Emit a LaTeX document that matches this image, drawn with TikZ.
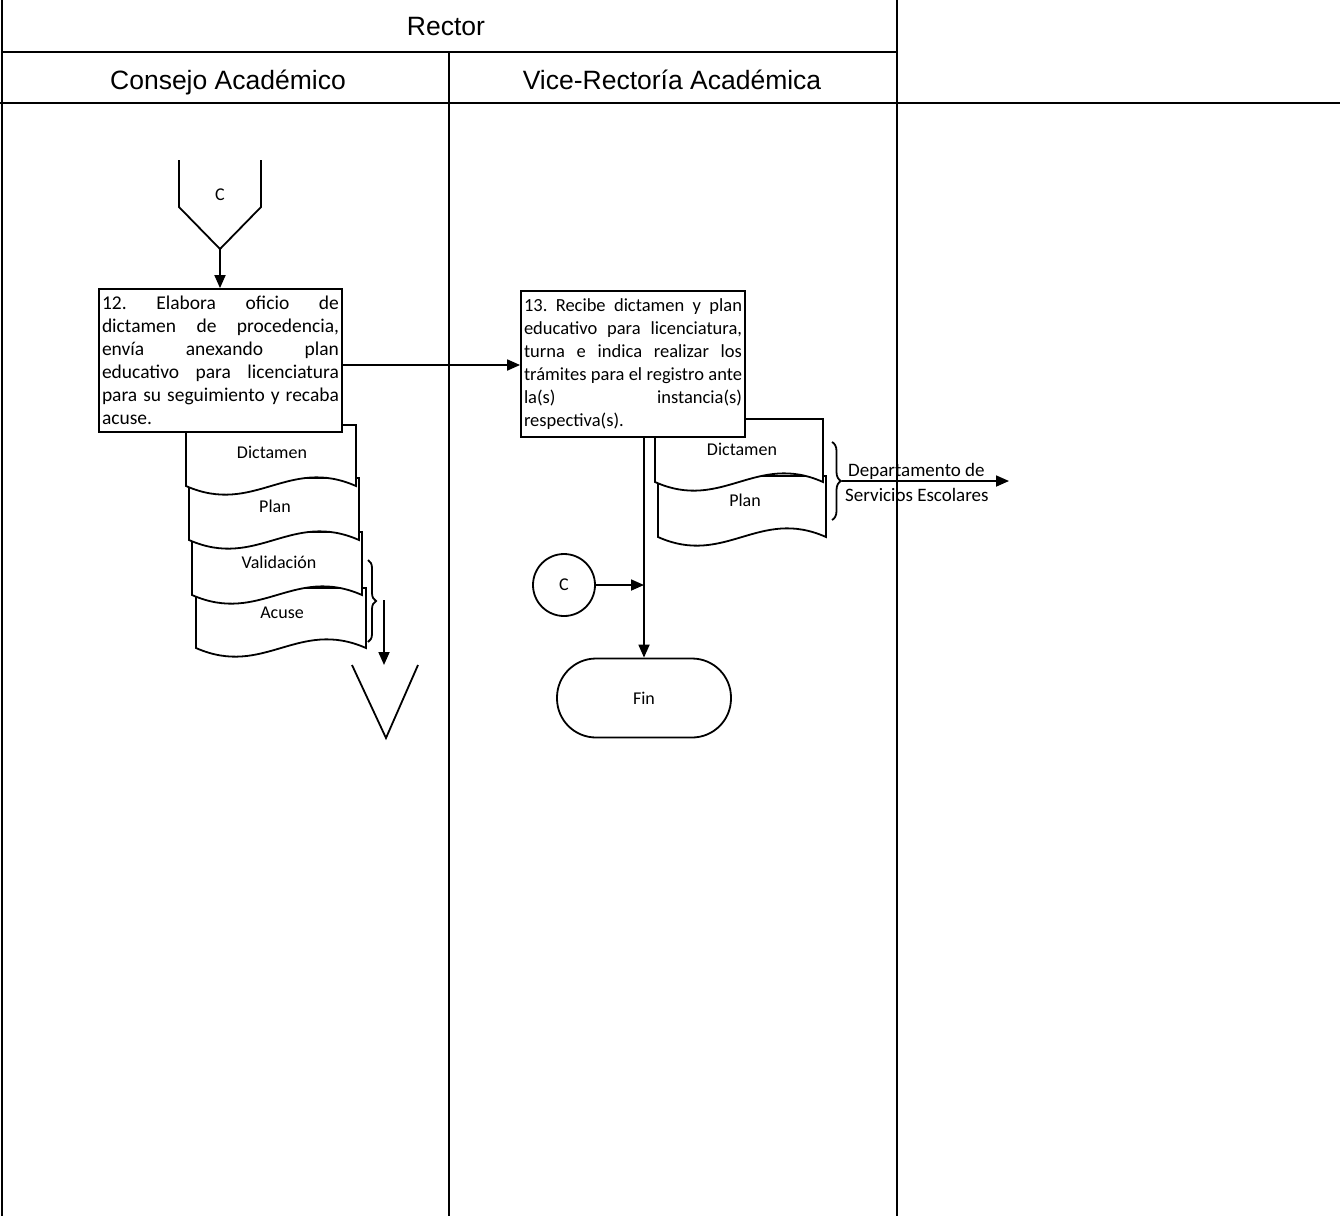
\documentclass[tikz,border=0pt]{standalone}
\usepackage{fontspec}
\setmainfont{Carlito}
\newfontfamily\headfont{Liberation Sans}
\usetikzlibrary{arrows.meta,decorations.pathreplacing,calc}
\hyphenpenalty=10000
\exhyphenpenalty=10000
\tolerance=10000
\frenchspacing

% a document sheet: left, top, right, bottom (wavy lower edge)
\newcommand\docsheet[4]{%
  \draw[sheet] (#1,#2) -- (#3,#2) -- (#3,#4)
    .. controls +({-0.4*(#3-#1)},-30) and +({0.4*(#3-#1)},30) .. (#1,#4) -- cycle;}

\tikzset{
  frame/.style={line width=2pt},
  ln/.style={line width=1.8pt},
  flow/.style={line width=1.8pt,-{Triangle[length=13pt,width=11pt]}},
  stepbox/.style={draw,line width=1.8pt,fill=white,inner sep=3pt,align=justify,
    font=\fontsize{19.5}{23}\selectfont},
  sheet/.style={draw,line width=1.8pt,fill=white},
  sheetlabel/.style={font=\fontsize{18}{20}\selectfont},
  lanehead/.style={font=\headfont\fontsize{26.5}{30}\selectfont,anchor=base},
}

\begin{document}
\begin{tikzpicture}[x=1pt,y=-1pt]
\useasboundingbox (0,0) rectangle (1340,1216);

% swimlane grid
\draw[frame] (2,0) -- (2,1216);
\draw[frame] (897,0) -- (897,1216);
\draw[frame] (449,52) -- (449,1216);
\draw[frame] (2,52) -- (897,52);
\draw[frame] (0,103) -- (1340,103);

\node[lanehead] (rector) at (446,35) {Rector};
\node[lanehead] (consejo) at (228,89) {Consejo Académico};
\node[lanehead] (vice) at (672,89) {Vice-Rectoría Académica};

% incoming off-page connector
\draw[ln] (179,160) -- (179,207) -- (220,249) -- (261,207) -- (261,160);
\node[sheetlabel] (cin) at (220,195) {C};
\coordinate (cinTip) at (220,249);

% documents produced in step 12
\docsheet{196}{588}{366}{648}
\node[sheetlabel] (dAcuse) at (282,613) {Acuse};
\docsheet{192}{532}{362}{595}
\node[sheetlabel] (dValid) at (279,562) {Validación};
\docsheet{189}{478}{359}{540}
\node[sheetlabel] (dPlanA) at (275,506) {Plan};
\docsheet{186}{425}{356}{486}
\node[sheetlabel] (dDictA) at (272,452) {Dictamen};

% step 12
\node[stepbox,text width=237pt,minimum width=243pt,minimum height=143pt] (s12) at (220.5,360.5)
  {12. Elabora oficio de\linebreak dictamen de procedencia,\linebreak envía anexando plan\linebreak
   educativo para licenciatura\linebreak para su seguimiento y recaba\linebreak acuse.};
\draw[flow] (cinTip) -- (cinTip |- s12.north);

% brace and outgoing off-page connector
\draw[ln,decorate,decoration={brace,amplitude=8pt}] (368,560) -- (368,642);
\coordinate (braceL) at (384,600);
\coordinate (offB) at (384,665);
\draw[flow] (braceL) -- (offB);
\draw[ln] (352,665) -- (386,738) -- (418,665);

% documents handled in step 13
\docsheet{658}{476}{826}{537}
\node[sheetlabel] (dPlanB) at (745,500) {Plan};
\docsheet{655}{419}{823}{482}
\node[sheetlabel] (dDictB) at (742,449) {Dictamen};

% step 13
\node[stepbox,font=\fontsize{18.5}{23}\selectfont,text width=218pt,minimum width=224pt,minimum height=146pt] (s13) at (633,364)
  {13. Recibe dictamen y plan\linebreak educativo para licenciatura,\linebreak turna e indica realizar los\linebreak
   trámites para el registro ante\linebreak la(s) instancia(s)\linebreak respectiva(s).};
\coordinate (s12out) at ($(s12.east)+(0,4.5)$);
\draw[flow] (s12out) -- (s12out -| s13.west);

% dispatch to Servicios Escolares
\draw[ln,decorate,decoration={brace,amplitude=9pt}] (832,442) -- (832,520);
\coordinate (braceR) at (842,481);
\coordinate (deptOut) at (1009,481);
\draw[flow] (braceR) -- (deptOut);
\node[sheetlabel,font=\fontsize{19}{21}\selectfont,anchor=base west,inner sep=0pt] (dept1) at (848,476) {Departamento de};
\node[sheetlabel,font=\fontsize{19}{21}\selectfont,anchor=base west,inner sep=0pt] (dept2) at (845,501) {Servicios Escolares};

% end of the procedure
\node[draw,ln,rounded corners=39pt,minimum width=174pt,minimum height=79pt,sheetlabel] (fin) at (644,698) {Fin};
\node[draw,ln,circle,minimum size=62pt,inner sep=0pt,sheetlabel] (cout) at (564,585) {C};
\draw[flow] (fin.north |- s13.south) -- (fin.north);
\draw[flow] (cout.east) -- (cout.east -| fin.north);
\end{tikzpicture}
\end{document}
